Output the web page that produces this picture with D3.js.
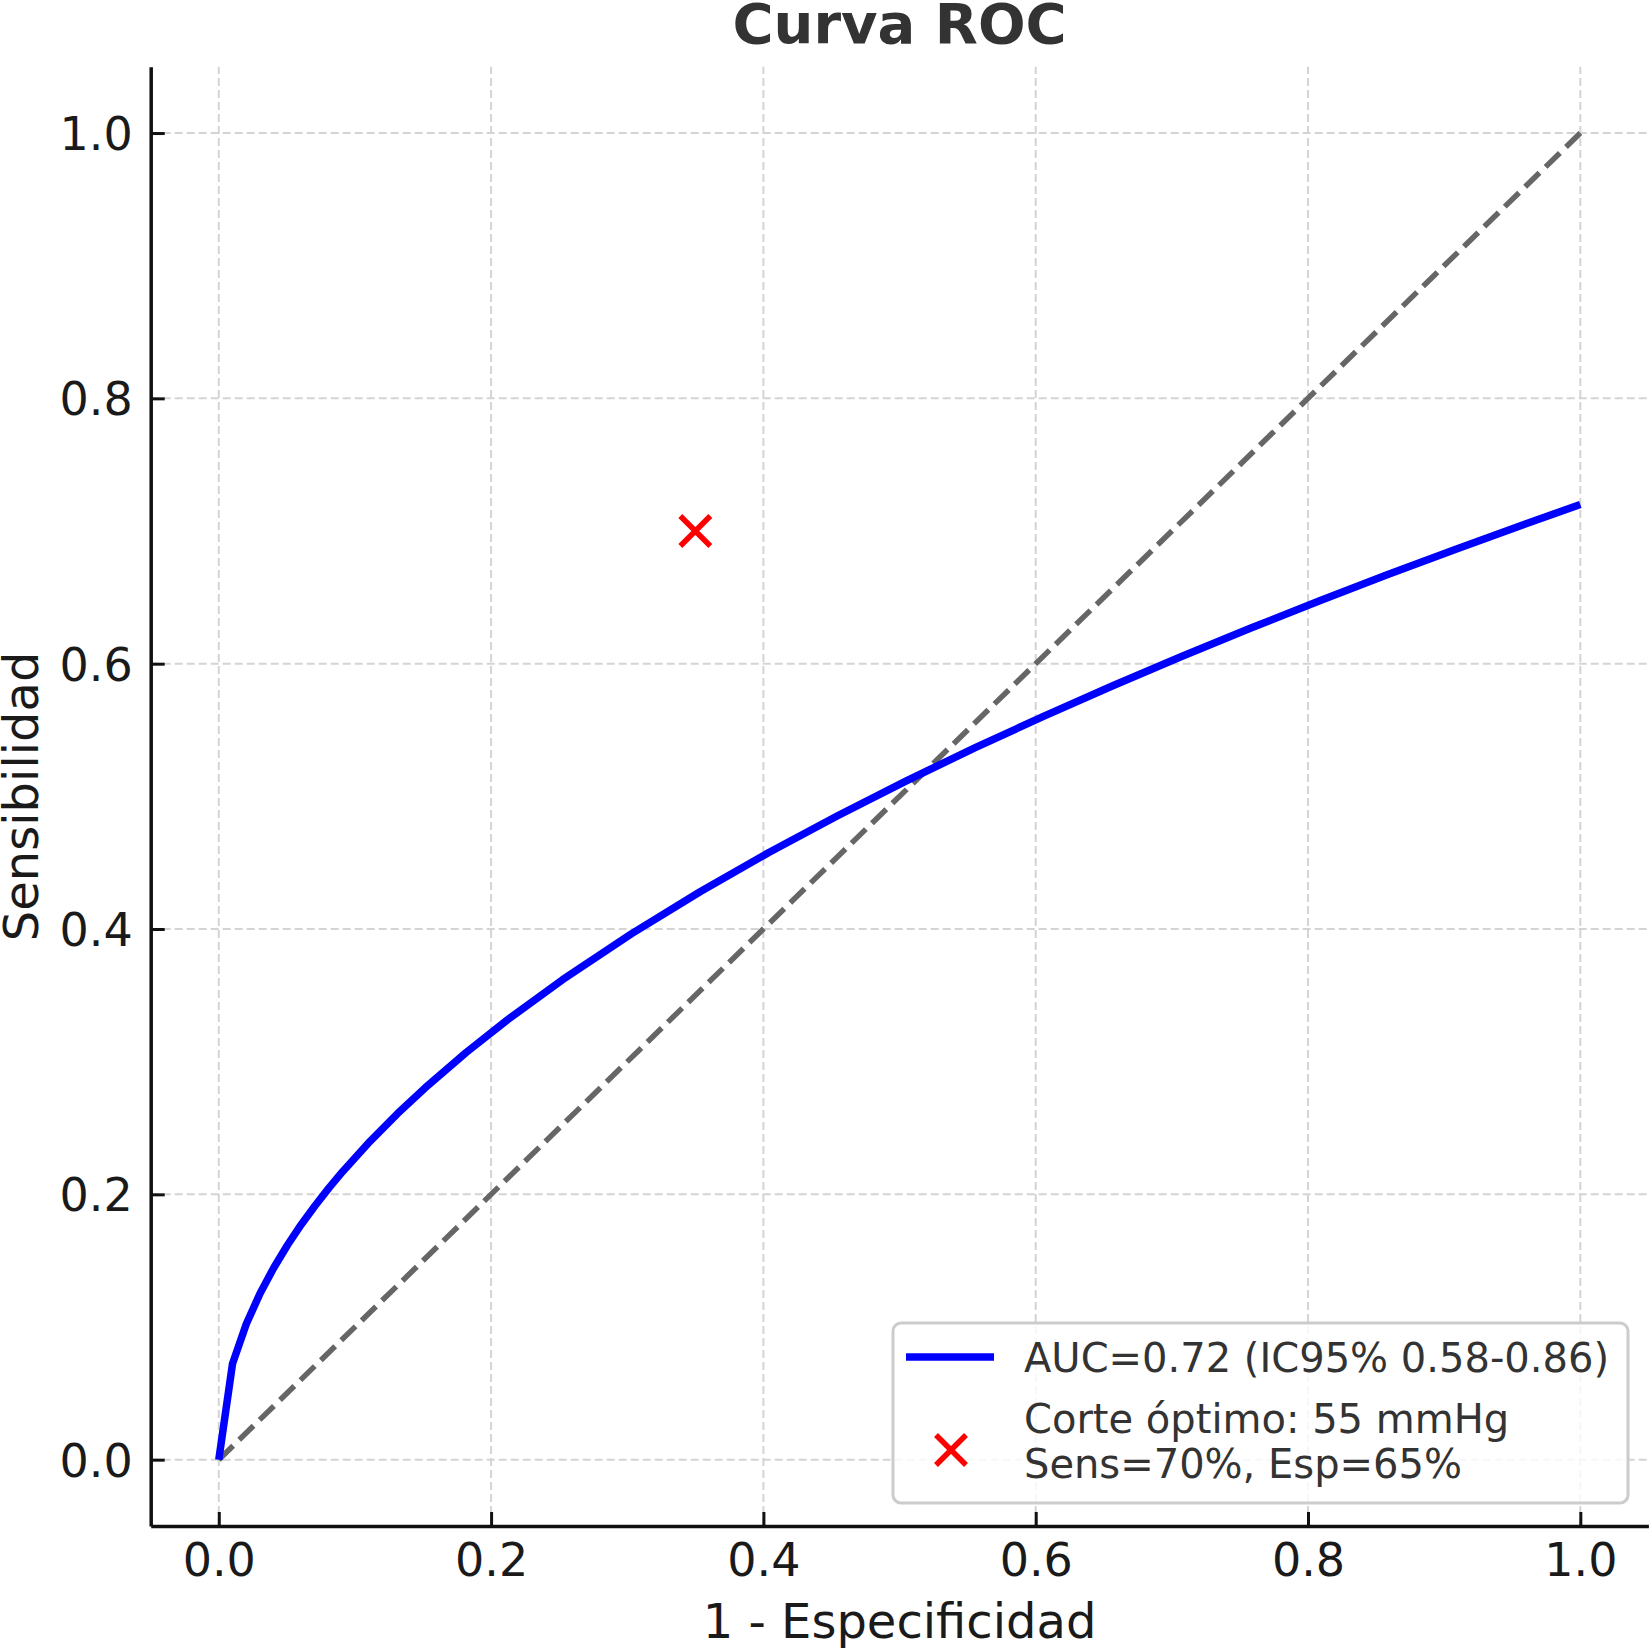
<!DOCTYPE html>
<html>
<head>
<meta charset="utf-8">
<script src="https://cdn.jsdelivr.net/npm/d3@7"></script>
<style>
  body { margin: 0; background: #fff; }
  svg { display: block; font-family: "DejaVu Sans", sans-serif; }
</style>
</head>
<body>
<div id="chart"></div>
<script>
/**
 * DATA
 * */
// ROC curve points (1 - especificidad, sensibilidad)
const rocX = [0, 0.0101, 0.0202, 0.0303, 0.0404, 0.0505, 0.0606, 0.0707, 0.0808, 0.0909,
  0.1111, 0.1313, 0.1515, 0.1818, 0.2121, 0.2525, 0.303, 0.3535, 0.404, 0.4545,
  0.505, 0.5556, 0.6061, 0.6566, 0.7071, 0.7576, 0.8081, 0.8586, 0.9091, 0.9596, 1.0];
const rocY = [0, 0.0724, 0.1023, 0.1253, 0.1447, 0.1618, 0.1773, 0.1914, 0.2047, 0.2171,
  0.24, 0.2609, 0.2802, 0.307, 0.3316, 0.3618, 0.3963, 0.4281, 0.4577, 0.4854,
  0.5117, 0.5367, 0.5605, 0.5834, 0.6054, 0.6267, 0.6472, 0.6672, 0.6865, 0.7053, 0.72];

// reference diagonal
const diagX = [0, 1];
const diagY = [0, 1];

// optimal cut point
const cutX = [0.35];
const cutY = [0.70];

const xTicks = [0, 0.2, 0.4, 0.6, 0.8, 1.0];
const yTicks = [0, 0.2, 0.4, 0.6, 0.8, 1.0];

const title = "Curva ROC";
const xLabel = "1 - Especificidad";
const yLabel = "Sensibilidad";
const legendLabels = ["AUC=0.72 (IC95% 0.58-0.86)", ["Corte óptimo: 55 mmHg", "Sens=70%, Esp=65%"]];

/**
 * CONSTANTS
 * */
const width = 1650,
  height = 1648,
  margin = { top: 66.7, bottom: 122, left: 150.7, right: 1.6 };

const svg = d3.select("#chart")
  .append("svg")
  .attr("width", width)
  .attr("height", height);

const x = d3.scaleLinear()
  .domain([-0.05, 1.05])
  .range([margin.left, width - margin.right]);

const y = d3.scaleLinear()
  .domain([-0.05, 1.05])
  .range([height - margin.bottom, margin.top]);

// grid
const grid = svg.append("g")
  .attr("stroke", "#d4d4d4")
  .attr("stroke-width", 2)
  .attr("stroke-dasharray", "8,4");

grid.selectAll(".vgrid")
  .data(xTicks)
  .join("line")
  .attr("class", "vgrid")
  .attr("x1", d => x(d)).attr("x2", d => x(d))
  .attr("y1", y.range()[0]).attr("y2", y.range()[1]);

grid.selectAll(".hgrid")
  .data(yTicks)
  .join("line")
  .attr("class", "hgrid")
  .attr("y1", d => y(d)).attr("y2", d => y(d))
  .attr("x1", x.range()[0]).attr("x2", x.range()[1]);

// diagonal
const line = d3.line()
  .x(d => x(d[0]))
  .y(d => y(d[1]));

svg.append("path")
  .datum(d3.zip(diagX, diagY))
  .attr("d", line)
  .attr("fill", "none")
  .attr("stroke", "#666666")
  .attr("stroke-width", 5.5)
  .attr("stroke-dasharray", "20,8.5");

// ROC curve
svg.append("path")
  .datum(d3.zip(rocX, rocY))
  .attr("d", line)
  .attr("fill", "none")
  .attr("stroke", "#0000ff")
  .attr("stroke-width", 7.5)
  .attr("stroke-linejoin", "round");

// cut point marker
const xMark = (g, size) => g
  .attr("d", `M${-size},${-size}L${size},${size}M${-size},${size}L${size},${-size}`)
  .attr("fill", "none")
  .attr("stroke", "#ff0000")
  .attr("stroke-width", 5.5);

svg.selectAll(".cut")
  .data(d3.zip(cutX, cutY))
  .join("path")
  .attr("class", "cut")
  .attr("transform", d => `translate(${x(d[0])},${y(d[1])})`)
  .call(xMark, 15);

// axes
const xAxis = svg.append("g")
  .attr("transform", `translate(0,${height - margin.bottom})`)
  .call(d3.axisBottom(x).tickValues(xTicks).tickFormat(d3.format(".1f"))
    .tickSizeInner(-14).tickSizeOuter(0).tickPadding(17));

const yAxis = svg.append("g")
  .attr("transform", `translate(${margin.left},0)`)
  .call(d3.axisLeft(y).tickValues(yTicks).tickFormat(d3.format(".1f"))
    .tickSizeInner(-14).tickSizeOuter(0).tickPadding(18));

[xAxis, yAxis].forEach(ax => {
  ax.select(".domain").attr("stroke", "#111").attr("stroke-width", 3.5);
  ax.selectAll(".tick line").attr("stroke", "#111").attr("stroke-width", 3);
  ax.selectAll(".tick text")
    .attr("font-family", "DejaVu Sans")
    .attr("font-size", 46)
    .attr("fill", "#1a1a1a");
});
yAxis.selectAll(".tick text").attr("dy", "0.36em");

// title and labels
svg.append("text")
  .attr("x", (x.range()[0] + x.range()[1]) / 2)
  .attr("y", 43)
  .attr("text-anchor", "middle")
  .attr("font-size", 56)
  .attr("font-weight", "bold")
  .attr("fill", "#333333")
  .text(title);

svg.append("text")
  .attr("x", (x.range()[0] + x.range()[1]) / 2)
  .attr("y", 1638)
  .attr("text-anchor", "middle")
  .attr("font-size", 48)
  .attr("fill", "#1a1a1a")
  .text(xLabel);

svg.append("text")
  .attr("transform", `translate(38,${(y.range()[0] + y.range()[1]) / 2}) rotate(-90)`)
  .attr("text-anchor", "middle")
  .attr("font-size", 48)
  .attr("fill", "#1a1a1a")
  .text(yLabel);

// legend
const legend = svg.append("g");

legend.append("rect")
  .attr("x", 893)
  .attr("y", 1323)
  .attr("width", 735)
  .attr("height", 180)
  .attr("rx", 8)
  .attr("fill", "#fff")
  .attr("fill-opacity", 0.8)
  .attr("stroke", "#cccccc")
  .attr("stroke-width", 3);

legend.append("line")
  .attr("x1", 906).attr("x2", 994)
  .attr("y1", 1357).attr("y2", 1357)
  .attr("stroke", "#0000ff")
  .attr("stroke-width", 7.5);

legend.append("text")
  .attr("x", 1024)
  .attr("y", 1372)
  .attr("font-size", 40)
  .attr("fill", "#333333")
  .text(legendLabels[0]);

legend.append("path")
  .attr("transform", "translate(951,1450)")
  .call(xMark, 15);

legend.append("text")
  .attr("font-size", 40)
  .attr("fill", "#333333")
  .selectAll("tspan")
  .data(legendLabels[1])
  .join("tspan")
  .attr("x", 1024)
  .attr("y", (d, i) => 1433 + i * 45)
  .text(d => d);
</script>
</body>
</html>
